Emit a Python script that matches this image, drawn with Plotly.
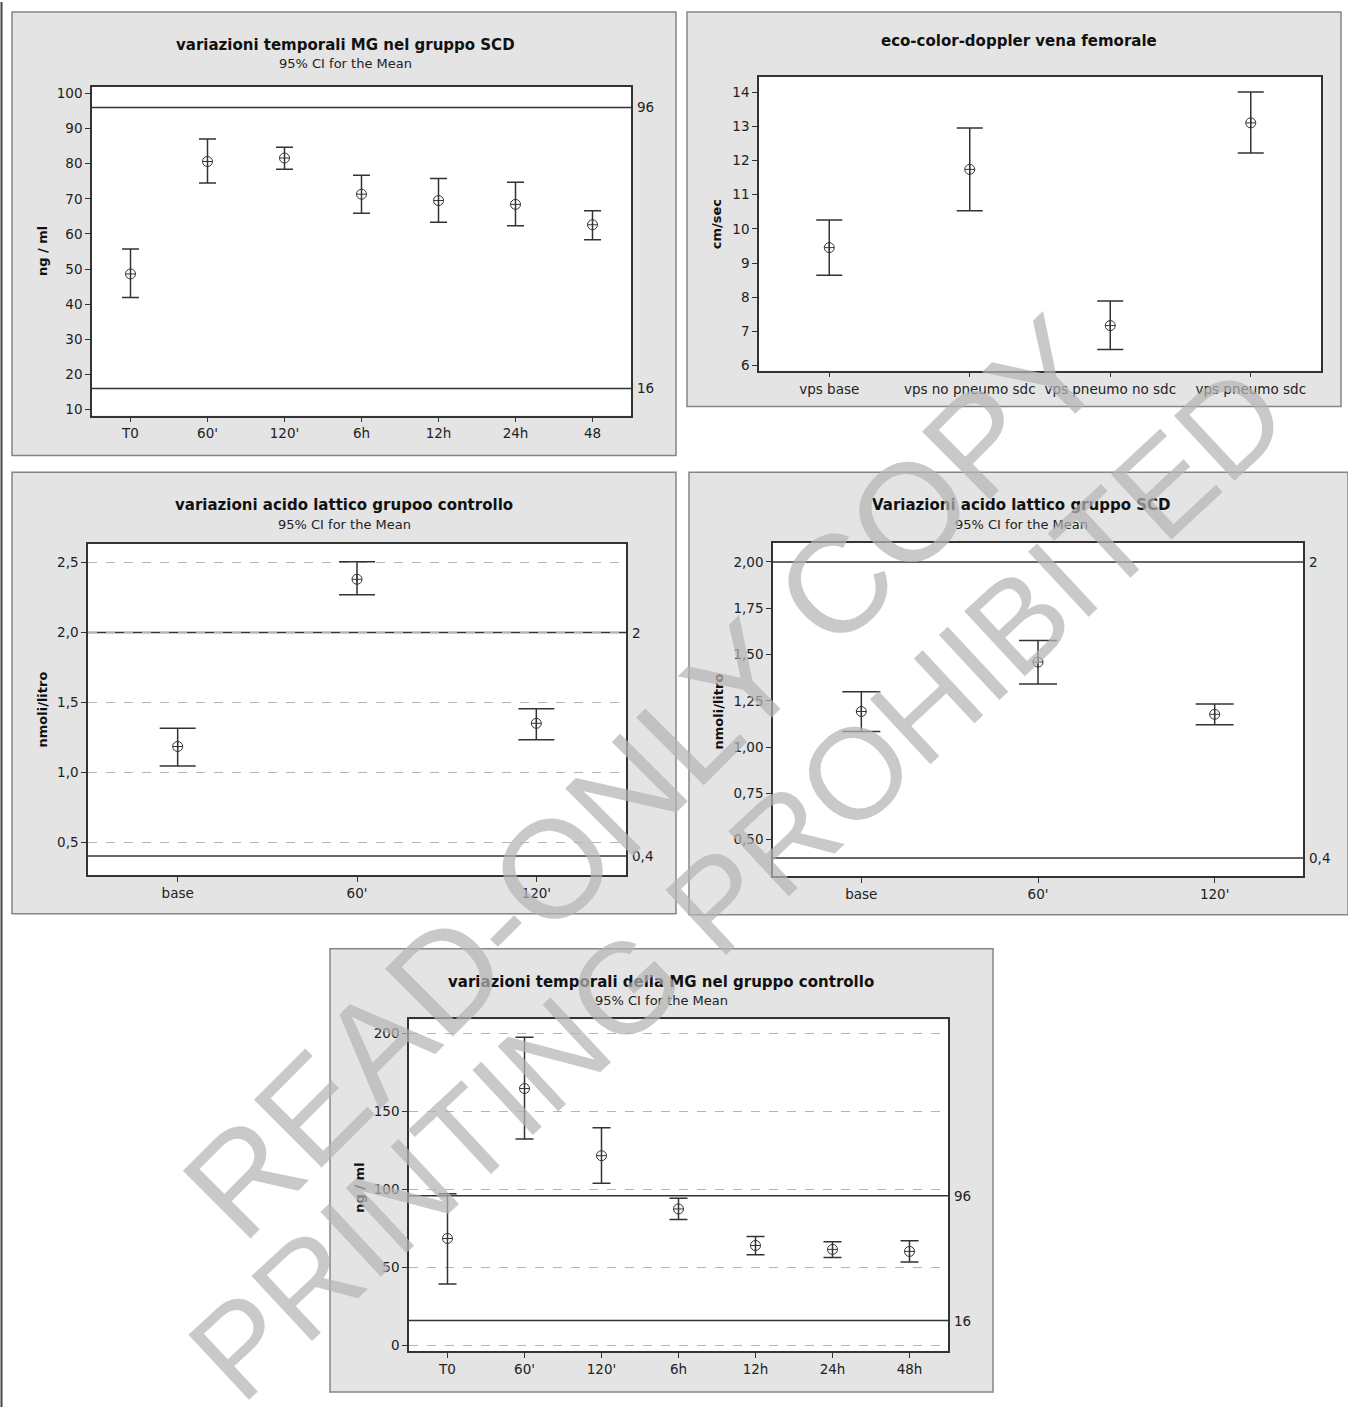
import plotly.graph_objects as go

W, H = 1348, 1410

# ---------------- data ----------------
p1_cats = ["T0", "60'", "120'", "6h", "12h", "24h", "48"]
p1_mean = [48.6, 80.6, 81.6, 71.3, 69.5, 68.4, 62.6]
p1_low = [41.9, 74.5, 78.4, 65.9, 63.3, 62.3, 58.3]
p1_up = [55.7, 87.0, 84.7, 76.7, 75.8, 74.7, 66.6]

p2_cats = ["vps base", "vps no pneumo sdc", "vps pneumo no sdc", "vps pneumo sdc"]
p2_mean = [9.45, 11.74, 7.17, 13.10]
p2_low = [8.64, 10.53, 6.47, 12.22]
p2_up = [10.26, 12.95, 7.89, 14.0]

p3_cats = ["base", "60'", "120'"]
p3_mean = [1.184, 2.381, 1.350]
p3_low = [1.044, 2.270, 1.232]
p3_up = [1.315, 2.507, 1.455]

p4_cats = ["base", "60'", "120'"]
p4_mean = [1.192, 1.459, 1.177]
p4_low = [1.084, 1.341, 1.120]
p4_up = [1.299, 1.576, 1.233]

p5_cats = ["T0", "60'", "120'", "6h", "12h", "24h", "48h"]
p5_mean = [68.6, 164.6, 121.6, 87.5, 64.1, 61.6, 60.3]
p5_low = [39.4, 132.3, 103.9, 80.7, 58.1, 56.4, 53.5]
p5_up = [97.3, 197.4, 139.5, 94.4, 69.9, 66.5, 67.1]

ref_mg = [96, 16]
ref_mg_labels = ["96", "16"]
ref_lat = [2, 0.4]
ref_lat_labels = ["2", "0,4"]

p3_ticks = [0.5, 1.0, 1.5, 2.0, 2.5]
p3_ticktext = ["0,5", "1,0", "1,5", "2,0", "2,5"]
p4_ticks = [0.5, 0.75, 1.0, 1.25, 1.5, 1.75, 2.0]
p4_ticktext = ["0,50", "0,75", "1,00", "1,25", "1,50", "1,75", "2,00"]

watermark_lines = ["READ-ONLY COPY", "PRINTING PROHIBITED"]

# ---------------- layout geometry (pixels) ----------------
def fx(p):
    return p / W

def fy(p):
    return 1 - p / H

FONT = "DejaVu Sans"
DARK = "#333333"
TICKSIZE = 13.5

panels = [
    dict(box=(12, 10, 676, 455), plot=(92, 85, 631, 415),
         cats=p1_cats, mean=p1_mean, low=p1_low, up=p1_up, yr=[8.3, 101.9],
         yticks=[10, 20, 30, 40, 50, 60, 70, 80, 90, 100], yticktext=None,
         refs=ref_mg, reflabels=ref_mg_labels, grid=False, cap=8.5,
         title="variazioni temporali MG nel gruppo SCD", tx=345, ty=43,
         sub=True, sy=62, ylab="ng / ml", lx=42, ly=250),
    dict(box=(687, 10, 1341, 406), plot=(759, 75, 1321, 370),
         cats=p2_cats, mean=p2_mean, low=p2_low, up=p2_up, yr=[5.85, 14.45],
         yticks=[6, 7, 8, 9, 10, 11, 12, 13, 14], yticktext=None,
         refs=[], reflabels=[], grid=False, cap=13,
         title="eco-color-doppler vena femorale", tx=1019, ty=39,
         sub=False, sy=0, ylab="cm/sec", lx=716, ly=223),
    dict(box=(12, 472, 676, 915), plot=(88, 544, 626, 876),
         cats=p3_cats, mean=p3_mean, low=p3_low, up=p3_up, yr=[0.265, 2.633],
         yticks=p3_ticks, yticktext=p3_ticktext,
         refs=ref_lat, reflabels=ref_lat_labels, grid=True, cap=18,
         title="variazioni acido lattico grupoo controllo", tx=344, ty=505,
         sub=True, sy=524, ylab="nmoli/litro", lx=42, ly=710),
    dict(box=(689, 472, 1348, 916), plot=(773, 543, 1303, 877),
         cats=p4_cats, mean=p4_mean, low=p4_low, up=p4_up, yr=[0.304, 2.102],
         yticks=p4_ticks, yticktext=p4_ticktext,
         refs=ref_lat, reflabels=ref_lat_labels, grid=False, cap=19,
         title="Variazioni acido lattico gruppo SCD", tx=1021, ty=505,
         sub=True, sy=524, ylab="nmoli/litro", lx=718, ly=712),
    dict(box=(330, 950, 993, 1395), plot=(409, 1021, 948, 1354),
         cats=p5_cats, mean=p5_mean, low=p5_low, up=p5_up, yr=[-3.6, 208.9],
         yticks=[0, 50, 100, 150, 200], yticktext=None,
         refs=ref_mg, reflabels=ref_mg_labels, grid=True, cap=9,
         title="variazioni temporali della MG nel gruppo controllo", tx=661, ty=983,
         sub=True, sy=1002, ylab="ng / ml", lx=360, ly=1190),
]

fig = go.Figure()
shapes = []
annotations = []
layout_axes = {}

for i, p in enumerate(panels, start=1):
    sfx = "" if i == 1 else str(i)
    xa, ya = "x" + sfx, "y" + sfx
    bx0, by0, bx1, by1 = p["box"]
    px0, py0, px1, py1 = p["plot"]
    # grey panel
    shapes.append(dict(type="rect", xref="paper", yref="paper",
                       x0=fx(bx0), x1=fx(bx1), y0=fy(by1), y1=fy(by0),
                       fillcolor="#e4e4e4", line=dict(color="#858585", width=1.5),
                       layer="below"))
    # white data area
    shapes.append(dict(type="rect", xref="paper", yref="paper",
                       x0=fx(px0), x1=fx(px1), y0=fy(py1), y1=fy(py0),
                       fillcolor="white", line=dict(width=0),
                       layer="below"))
    n = len(p["cats"])
    err_up = [u - m for u, m in zip(p["up"], p["mean"])]
    err_dn = [m - l for m, l in zip(p["mean"], p["low"])]
    fig.add_trace(go.Scatter(
        x=p["cats"], y=p["mean"], mode="markers", xaxis=xa, yaxis=ya,
        showlegend=False, hoverinfo="x+y",
        marker=dict(symbol="circle-cross-open", size=10, color=DARK,
                    line=dict(width=1, color=DARK)),
        error_y=dict(type="data", symmetric=False, array=err_up,
                     arrayminus=err_dn, color=DARK, thickness=1.5,
                     width=p["cap"]),
    ))
    axis_common = dict(showline=True, linecolor=DARK, linewidth=1.5,
                       mirror=True, ticks="outside", ticklen=5,
                       tickcolor=DARK, tickwidth=1,
                       tickfont=dict(family=FONT, size=TICKSIZE, color="#222"),
                       zeroline=False)
    xdict = dict(axis_common, domain=[fx(px0), fx(px1)], anchor=ya,
                 type="category", categoryorder="array", categoryarray=p["cats"],
                 range=[-0.5, n - 0.5], showgrid=False)
    ydict = dict(axis_common, domain=[fy(py1), fy(py0)], anchor=xa,
                 range=p["yr"], tickvals=p["yticks"],
                 showgrid=p["grid"], gridcolor="#b5b5b5", griddash="dash",
                 gridwidth=1)
    if p["yticktext"] is not None:
        ydict["ticktext"] = p["yticktext"]
    layout_axes["xaxis" + sfx] = xdict
    layout_axes["yaxis" + sfx] = ydict

    for val, lab in zip(p["refs"], p["reflabels"]):
        shapes.append(dict(type="line", xref=xa + " domain", yref=ya,
                           x0=0, x1=1, y0=val, y1=val,
                           line=dict(color=DARK, width=1.5), layer="below"))
        annotations.append(dict(xref=xa + " domain", yref=ya, x=1, y=val,
                                text=lab, showarrow=False, xanchor="left",
                                xshift=4,
                                font=dict(family=FONT, size=TICKSIZE, color="#222")))

    annotations.append(dict(xref="paper", yref="paper", x=fx(p["tx"]), y=fy(p["ty"]),
                            text="<b>" + p["title"] + "</b>", showarrow=False,
                            xanchor="center", yanchor="middle",
                            font=dict(family=FONT, size=15, color="#111")))
    if p["sub"]:
        annotations.append(dict(xref="paper", yref="paper", x=fx(p["tx"]), y=fy(p["sy"]),
                                text="95% CI for the Mean", showarrow=False,
                                xanchor="center", yanchor="middle",
                                font=dict(family=FONT, size=13, color="#222")))
    annotations.append(dict(xref="paper", yref="paper", x=fx(p["lx"]), y=fy(p["ly"]),
                            text="<b>" + p["ylab"] + "</b>", showarrow=False,
                            textangle=-90, xanchor="center", yanchor="middle",
                            font=dict(family=FONT, size=13, color="#111")))

# left dark page edge
shapes.append(dict(type="line", xref="paper", yref="paper",
                   x0=fx(1.5), x1=fx(1.5), y0=0, y1=1,
                   line=dict(color="#444", width=2)))

# watermark (drawn on top, light grey, mostly opaque)
WM_COLOR = "rgba(180,180,180,0.72)"
wm_pos = [(643, 778, -45, 139), (737, 884, -43, 129)]
for txt, (cx, cy, ang, sz) in zip(watermark_lines, wm_pos):
    annotations.append(dict(xref="paper", yref="paper", x=fx(cx), y=fy(cy),
                            text=txt, showarrow=False, textangle=ang,
                            xanchor="center", yanchor="middle",
                            font=dict(family="Liberation Sans", size=sz,
                                      color=WM_COLOR)))

fig.update_layout(width=W, height=H, margin=dict(l=0, r=0, t=0, b=0),
                  paper_bgcolor="white", plot_bgcolor="white",
                  shapes=shapes, annotations=annotations, showlegend=False,
                  **layout_axes)

fig.write_html("out.html", config={"displayModeBar": False},
               post_script="document.body.style.margin='0';"
                           "document.body.style.overflow='hidden';")
